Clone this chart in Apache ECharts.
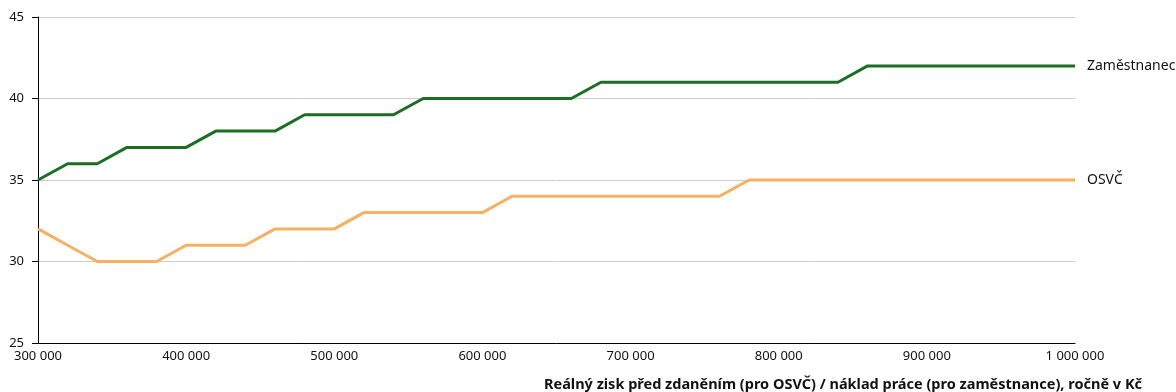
<!DOCTYPE html>
<html>
<head>
<meta charset="utf-8">
<script src="https://cdn.jsdelivr.net/npm/echarts@6/dist/echarts.min.js"></script>
<style>
html,body{margin:0;padding:0;background:#fff;}
#chart{width:1176px;height:392px;}
</style>
</head>
<body>
<div id="chart"></div>
<script>
const incomes = [300000,320000,340000,360000,380000,400000,420000,440000,460000,480000,500000,520000,540000,560000,580000,600000,620000,640000,660000,680000,700000,720000,740000,760000,780000,800000,820000,840000,860000,880000,900000,920000,940000,960000,980000,1000000];
const zamestnanec = [35,36,36,37,37,37,38,38,38,39,39,39,39,40,40,40,40,40,40,41,41,41,41,41,41,41,41,41,42,42,42,42,42,42,42,42];
const osvc = [32,31,30,30,30,31,31,31,32,32,32,33,33,33,33,33,34,34,34,34,34,34,34,34,35,35,35,35,35,35,35,35,35,35,35,35];
const seriesNames = ['Zaměstnanec','OSVČ'];
const xTitleBold = 'Reálný zisk před zdaněním (pro OSVČ) / náklad práce (pro zaměstnance)';
const xTitleRest = ', ročně v Kč';

const FONT = '"Noto Sans", sans-serif';
const fmt = v => String(v).replace(/\B(?=(\d{3})+(?!\d))/g, ' ');
const pairs = arr => incomes.map((x,i)=>[x,arr[i]]);

const chart = echarts.init(document.getElementById('chart'));
chart.setOption({
  animation:false,
  textStyle:{fontFamily:FONT},
  grid:{left:38,right:101,top:17,bottom:49,containLabel:false},
  title:{
    text:'{b|'+xTitleBold+'}{r|'+xTitleRest+'}',
    right:34, top:377, padding:0,
    textStyle:{rich:{
      b:{fontFamily:FONT,fontWeight:'bold',fontSize:14.5,color:'#111'},
      r:{fontFamily:FONT,fontSize:14.5,color:'#111'}
    }}
  },
  xAxis:{
    type:'value', min:300000, max:1000000, interval:100000,
    axisLine:{show:true,lineStyle:{color:'#000',width:1}},
    axisTick:{show:false},
    splitLine:{show:false},
    axisLabel:{formatter:fmt,color:'#111',fontSize:13,margin:7,fontFamily:FONT}
  },
  yAxis:{
    type:'value', min:25, max:45, interval:5,
    axisLine:{show:true,lineStyle:{color:'#000',width:1}},
    axisTick:{show:true,length:6,lineStyle:{color:'#000'}},
    splitLine:{show:true,lineStyle:{color:'#cccccc',width:1}},
    axisLabel:{color:'#111',fontSize:13,margin:14,fontFamily:FONT}
  },
  series:[
    {name:seriesNames[0],type:'line',data:pairs(zamestnanec),symbol:'none',
     lineStyle:{color:'#1b6e24',width:3},itemStyle:{color:'#1b6e24'},
     endLabel:{show:true,formatter:seriesNames[0],distance:12,color:'#111',fontSize:14,fontFamily:FONT}},
    {name:seriesNames[1],type:'line',data:pairs(osvc),symbol:'none',
     lineStyle:{color:'#f5b061',width:3},itemStyle:{color:'#f5b061'},
     endLabel:{show:true,formatter:seriesNames[1],distance:12,color:'#111',fontSize:14,fontFamily:FONT}}
  ]
});
</script>
</body>
</html>
